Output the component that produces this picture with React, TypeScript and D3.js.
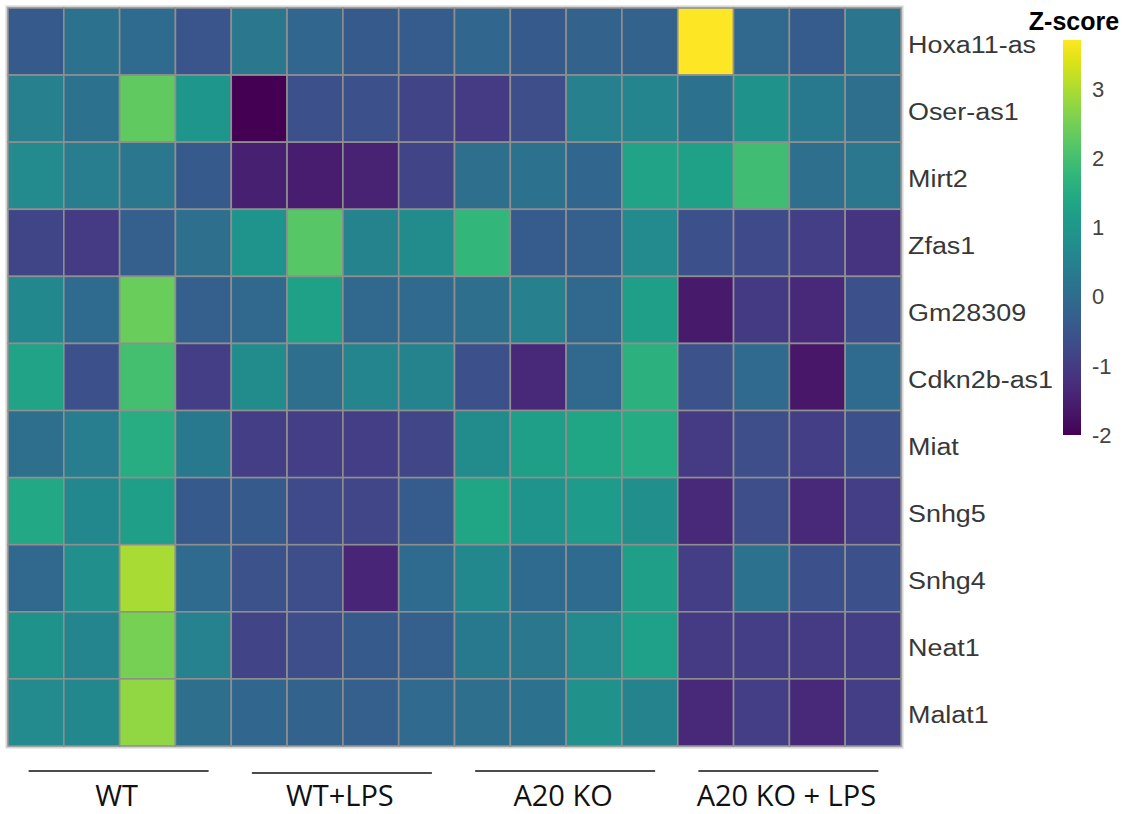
import React, { useEffect, useRef } from 'react';
import * as d3 from 'd3';

const genes = [
  'Hoxa11-as',
  'Oser-as1',
  'Mirt2',
  'Zfas1',
  'Gm28309',
  'Cdkn2b-as1',
  'Miat',
  'Snhg5',
  'Snhg4',
  'Neat1',
  'Malat1',
];

const groups = ['WT', 'WT+LPS', 'A20 KO', 'A20 KO + LPS'];
const samplesPerGroup = 4;

// z-scores, one row per gene, 16 samples (4 per group)
const hoxa11 = [-0.4, 0.12, -0.02, -0.5, 0.27, -0.15, -0.4, -0.37, -0.15, -0.4, -0.23, -0.23, 3.7, -0.1, -0.37, 0.22];
const oser = [0.45, 0.15, 2.3, 1.0, -2.0, -0.6, -0.6, -0.86, -1.0, -0.65, 0.45, 0.6, 0.13, 0.9, 0.3, 0.05];
const mirt2 = [0.7, 0.4, 0.27, -0.4, -1.5, -1.57, -1.45, -0.86, 0.05, 0.13, -0.15, 1.3, 1.27, 1.95, 0.05, 0.27];
const zfas1 = [-0.82, -1.02, -0.29, 0.05, 0.95, 2.2, 0.55, 0.75, 1.75, -0.37, -0.29, 0.7, -0.6, -0.72, -0.97, -1.15];
const gm28309 = [0.65, -0.03, 2.4, -0.29, -0.1, 1.27, -0.1, -0.05, 0.05, 0.45, -0.1, 1.2, -1.6, -1.03, -1.37, -0.6];
const cdkn2b = [1.3, -0.6, 2.0, -0.97, 0.75, 0.05, 0.6, 0.55, -0.6, -1.37, -0.1, 1.63, -0.57, -0.05, -1.65, -0.03];
const miat = [0.05, 0.4, 1.55, 0.3, -0.97, -0.97, -0.97, -0.8, 0.75, 1.2, 1.37, 1.5, -1.0, -0.65, -0.97, -0.6];
const snhg5 = [1.42, 0.65, 1.2, -0.4, -0.4, -0.72, -0.8, -0.37, 1.37, 0.95, 1.1, 0.83, -1.37, -0.65, -1.37, -0.97];
const snhg4 = [-0.1, 0.83, 2.95, -0.03, -0.57, -0.65, -1.4, -0.03, 0.65, -0.03, -0.03, 1.2, -0.97, 0.13, -0.6, -0.6];
const neat1 = [0.9, 0.6, 2.5, 0.5, -0.85, -0.65, -0.4, -0.29, 0.3, 0.27, 0.7, 1.22, -1.0, -0.97, -1.0, -0.97];
const malat1 = [0.7, 0.65, 2.75, 0.05, -0.15, -0.23, -0.29, -0.05, 0.05, 0.15, 0.85, 0.55, -1.37, -0.97, -1.37, -0.97];

const values = [hoxa11, oser, mirt2, zfas1, gm28309, cdkn2b, miat, snhg5, snhg4, neat1, malat1];

const legendTicks = [-2, -1, 0, 1, 2, 3];
const zExtent = [-2, 3.7];

export default function App() {
  const ref = useRef<SVGSVGElement>(null);

  useEffect(() => {
    const svg = d3.select(ref.current);
    svg.selectAll('*').remove();
    const width = 1130;
    const height = 814;
    const grid = { left: 8, top: 8, right: 901, bottom: 746 };

    const samples = d3.range(groups.length * samplesPerGroup);
    const x = d3.scaleBand<number>().domain(samples).range([grid.left, grid.right]);
    const y = d3.scaleBand<string>().domain(genes).range([grid.top, grid.bottom]);
    const color = d3.scaleSequential(d3.interpolateViridis).domain(zExtent);

    svg.append('rect').attr('width', width).attr('height', height).attr('fill', '#fff');

    // soft shadow around heatmap
    svg
      .append('rect')
      .attr('x', grid.left - 1.5)
      .attr('y', grid.top - 1.5)
      .attr('width', grid.right - grid.left + 3)
      .attr('height', grid.bottom - grid.top + 3)
      .attr('fill', 'none')
      .attr('stroke', '#d4d4d4')
      .attr('stroke-width', 2);

    const cells = values.flatMap((row, i) => row.map((v, j) => ({ gene: genes[i], j, v })));
    svg
      .append('g')
      .selectAll('rect')
      .data(cells)
      .join('rect')
      .attr('x', d => x(d.j)!)
      .attr('y', d => y(d.gene)!)
      .attr('width', x.bandwidth())
      .attr('height', y.bandwidth())
      .attr('fill', d => color(d.v))
      .attr('stroke', '#8f8f8f')
      .attr('stroke-width', 1.6);

    // row labels (the source image is stretched sideways a little)
    svg
      .append('g')
      .selectAll('text')
      .data(genes)
      .join('text')
      .attr(
        'transform',
        d => `translate(${grid.right + 7},${y(d)! + y.bandwidth() / 2 + 11}) scale(1.17,1)`,
      )
      .attr('font-family', '"Liberation Sans", Arial, sans-serif')
      .attr('font-size', 23)
      .attr('fill', '#383838')
      .text(d => d);

    // group bars and labels
    const gx = d3
      .scaleBand<string>()
      .domain(groups)
      .range([grid.left, grid.right]);
    const groupG = svg.append('g');
    groupG
      .selectAll('line')
      .data(groups)
      .join('line')
      .attr('x1', d => gx(d)! + gx.bandwidth() / 2 - 91)
      .attr('x2', d => gx(d)! + gx.bandwidth() / 2 + 89)
      .attr('y1', (d, i) => (i === 1 ? 773 : 771))
      .attr('y2', (d, i) => (i === 1 ? 773 : 771))
      .attr('stroke', '#111')
      .attr('stroke-width', 1.6);
    groupG
      .selectAll('text')
      .data(groups)
      .join('text')
      .attr('x', d => gx(d)! + gx.bandwidth() / 2 - 3)
      .attr('y', 806)
      .attr('text-anchor', 'middle')
      .attr('font-family', '"Open Sans", sans-serif')
      .attr('font-size', 29)
      .attr('fill', '#111')
      .text(d => d);

    // colour legend
    const lg = { x: 1063, w: 18, top: 40, bottom: 435 };
    const ly = d3.scaleLinear().domain(zExtent).range([lg.bottom, lg.top]);
    const defs = svg.append('defs');
    const grad = defs
      .append('linearGradient')
      .attr('id', 'zgrad')
      .attr('x1', 0)
      .attr('x2', 0)
      .attr('y1', 1)
      .attr('y2', 0);
    d3.range(0, 1.0001, 0.05).forEach(t => {
      grad
        .append('stop')
        .attr('offset', t)
        .attr('stop-color', color(zExtent[0] + t * (zExtent[1] - zExtent[0])));
    });
    svg
      .append('rect')
      .attr('x', lg.x)
      .attr('y', lg.top)
      .attr('width', lg.w)
      .attr('height', lg.bottom - lg.top)
      .attr('fill', 'url(#zgrad)');

    svg
      .append('g')
      .selectAll('text')
      .data(legendTicks)
      .join('text')
      .attr('x', lg.x + lg.w + 11)
      .attr('y', d => ly(d) + 8)
      .attr('font-family', '"Liberation Sans", Arial, sans-serif')
      .attr('font-size', 22)
      .attr('fill', '#444')
      .text(d => d);

    svg
      .append('text')
      .attr('x', 1074)
      .attr('y', 30)
      .attr('text-anchor', 'middle')
      .attr('font-family', '"Liberation Sans", Arial, sans-serif')
      .attr('font-weight', 'bold')
      .attr('font-size', 25)
      .attr('fill', '#000')
      .text('Z-score');
  });

  return (
    <svg
      ref={ref}
      width={1130}
      height={814}
      style={{ position: 'absolute', left: 0, top: 0 }}
    />
  );
}
